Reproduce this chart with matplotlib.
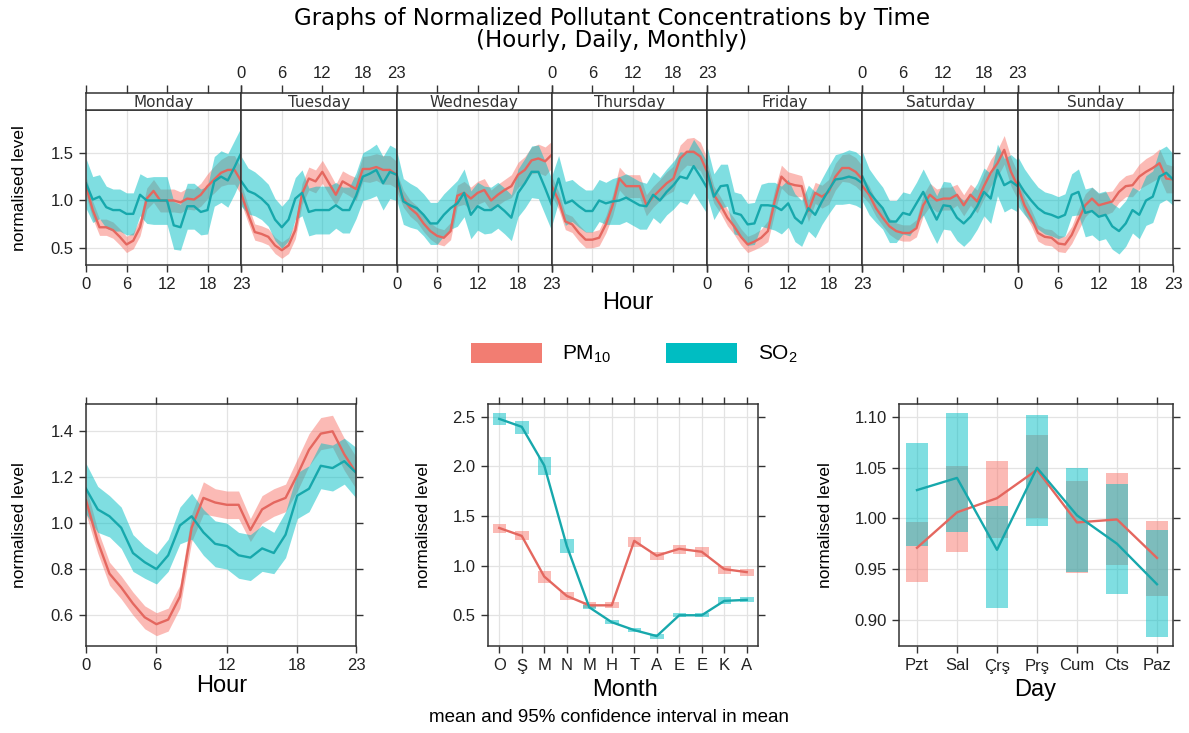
import matplotlib
matplotlib.use('Agg')
import matplotlib.pyplot as plt
import numpy as np
from matplotlib.patches import Patch, Rectangle

plt.rcParams['font.family'] = ['Liberation Sans', 'DejaVu Sans']
plt.rcParams['mathtext.default'] = 'regular'

# ---------------- data ----------------
hours = list(range(24))
day_names = ['Monday', 'Tuesday', 'Wednesday', 'Thursday', 'Friday', 'Saturday', 'Sunday']

pm10_mon = [1.15, 0.90, 0.72, 0.72, 0.69, 0.62, 0.54, 0.58, 0.72, 1.02, 1.10, 1.00, 1.00, 1.00, 0.98, 1.02, 1.01, 1.06, 1.15, 1.22, 1.29, 1.32, 1.32, 1.20]
so2_mon = [1.18, 1.01, 1.04, 0.93, 0.90, 0.90, 0.86, 0.86, 1.06, 1.00, 1.00, 1.00, 1.00, 0.74, 0.72, 0.94, 0.94, 0.88, 0.90, 1.20, 1.25, 1.21, 1.35, 1.50]
pm10_tue = [1.07, 0.86, 0.67, 0.65, 0.62, 0.53, 0.48, 0.53, 0.69, 1.07, 1.23, 1.20, 1.30, 1.18, 1.06, 1.20, 1.16, 1.12, 1.33, 1.33, 1.35, 1.32, 1.32, 1.27]
so2_tue = [1.20, 1.10, 1.07, 1.02, 0.95, 0.80, 0.72, 0.80, 1.02, 1.08, 0.88, 0.90, 0.90, 0.90, 0.95, 0.90, 0.90, 1.05, 1.25, 1.28, 1.32, 1.18, 1.30, 1.27]
pm10_wed = [1.20, 1.02, 0.92, 0.86, 0.76, 0.68, 0.63, 0.61, 0.68, 1.05, 1.08, 1.02, 1.08, 1.11, 1.00, 1.06, 1.11, 1.15, 1.27, 1.32, 1.42, 1.44, 1.41, 1.48]
so2_wed = [1.27, 0.99, 0.95, 0.92, 0.85, 0.76, 0.76, 0.85, 0.92, 0.97, 1.08, 0.85, 0.94, 0.90, 0.90, 0.95, 0.89, 0.82, 1.08, 1.18, 1.30, 1.30, 1.13, 0.95]
pm10_thu = [1.15, 1.00, 0.78, 0.75, 0.66, 0.59, 0.59, 0.61, 0.75, 0.95, 1.23, 1.15, 1.15, 1.15, 0.95, 1.04, 1.11, 1.18, 1.23, 1.44, 1.51, 1.51, 1.46, 1.30]
so2_thu = [1.00, 1.23, 0.97, 1.00, 0.94, 0.89, 0.89, 1.00, 0.97, 0.99, 1.00, 1.03, 0.99, 0.95, 0.94, 1.06, 1.00, 1.09, 1.16, 1.25, 1.23, 1.36, 1.25, 1.13]
pm10_fri = [1.30, 1.06, 0.95, 0.82, 0.73, 0.62, 0.54, 0.57, 0.61, 0.68, 0.99, 1.25, 1.18, 1.16, 1.15, 0.89, 1.08, 1.04, 1.09, 1.25, 1.34, 1.34, 1.30, 1.22]
so2_fri = [1.30, 1.04, 1.15, 1.16, 0.87, 0.85, 0.75, 0.76, 0.95, 0.95, 0.94, 0.90, 0.97, 0.82, 0.76, 0.92, 0.85, 0.99, 1.11, 1.22, 1.23, 1.25, 1.23, 1.18]
pm10_sat = [1.15, 1.06, 0.92, 0.82, 0.73, 0.68, 0.66, 0.66, 0.71, 0.95, 1.06, 1.00, 1.02, 1.02, 1.06, 0.95, 1.06, 0.99, 1.15, 1.29, 1.39, 1.53, 1.30, 1.15]
so2_sat = [1.25, 1.09, 1.00, 0.92, 0.78, 0.78, 0.87, 0.85, 0.97, 1.09, 0.94, 0.80, 0.95, 0.94, 0.82, 0.76, 0.83, 0.94, 1.09, 1.02, 1.32, 1.16, 1.20, 1.15]
pm10_sun = [1.15, 0.95, 0.82, 0.66, 0.62, 0.61, 0.55, 0.54, 0.64, 0.80, 0.95, 1.02, 0.95, 0.97, 0.99, 1.09, 1.15, 1.16, 1.25, 1.30, 1.34, 1.39, 1.23, 1.22]
so2_sun = [1.20, 1.09, 1.00, 0.92, 0.87, 0.85, 0.82, 0.85, 1.06, 1.09, 0.87, 0.89, 0.83, 0.85, 0.73, 0.68, 0.76, 0.90, 0.85, 1.00, 1.04, 1.25, 1.29, 1.22]

# approximate 95% CI half-widths by hour (week panels)
pm10_week_ci = [0.10, 0.09, 0.085, 0.085, 0.085, 0.085, 0.085, 0.085, 0.09, 0.11, 0.12, 0.12, 0.12, 0.12, 0.11, 0.11, 0.11, 0.12, 0.13, 0.14, 0.14, 0.15, 0.15, 0.14]
so2_week_ci = [0.26, 0.24, 0.23, 0.22, 0.22, 0.22, 0.22, 0.22, 0.22, 0.24, 0.25, 0.25, 0.25, 0.25, 0.24, 0.24, 0.24, 0.24, 0.25, 0.26, 0.27, 0.28, 0.28, 0.27]

# hourly (all days)
pm10_hour = [1.10, 0.92, 0.78, 0.72, 0.65, 0.59, 0.56, 0.58, 0.68, 0.98, 1.11, 1.09, 1.08, 1.08, 0.97, 1.06, 1.09, 1.11, 1.21, 1.32, 1.39, 1.40, 1.30, 1.22]
so2_hour = [1.15, 1.06, 1.03, 0.98, 0.87, 0.83, 0.80, 0.86, 0.99, 1.03, 0.96, 0.91, 0.90, 0.86, 0.85, 0.89, 0.87, 0.95, 1.12, 1.15, 1.25, 1.24, 1.27, 1.22]
pm10_hour_ci = [0.06, 0.05, 0.05, 0.05, 0.05, 0.05, 0.05, 0.05, 0.05, 0.06, 0.07, 0.06, 0.06, 0.06, 0.05, 0.06, 0.06, 0.06, 0.07, 0.07, 0.07, 0.07, 0.07, 0.07]
so2_hour_ci = [0.11, 0.10, 0.09, 0.09, 0.08, 0.07, 0.065, 0.07, 0.08, 0.10, 0.10, 0.10, 0.10, 0.10, 0.10, 0.10, 0.09, 0.10, 0.10, 0.10, 0.10, 0.10, 0.10, 0.11]

# monthly
months = ['O', 'Ş', 'M', 'N', 'M', 'H', 'T', 'A', 'E', 'E', 'K', 'A']
pm10_month = [1.38, 1.30, 0.89, 0.695, 0.60, 0.60, 1.25, 1.10, 1.17, 1.14, 0.965, 0.935]
pm10_month_lo = [1.33, 1.26, 0.83, 0.65, 0.57, 0.57, 1.19, 1.06, 1.12, 1.09, 0.92, 0.90]
pm10_month_hi = [1.42, 1.35, 0.95, 0.73, 0.63, 0.63, 1.29, 1.14, 1.21, 1.19, 1.00, 0.97]
so2_month = [2.48, 2.40, 2.01, 1.20, 0.58, 0.43, 0.35, 0.29, 0.50, 0.50, 0.645, 0.655]
so2_month_lo = [2.42, 2.33, 1.91, 1.13, 0.56, 0.41, 0.33, 0.265, 0.48, 0.48, 0.61, 0.63]
so2_month_hi = [2.54, 2.46, 2.10, 1.27, 0.60, 0.45, 0.37, 0.31, 0.52, 0.52, 0.68, 0.68]

# weekday
weekdays = ['Pzt', 'Sal', 'Çrş', 'Prş', 'Cum', 'Cts', 'Paz']
pm10_day = [0.971, 1.006, 1.020, 1.048, 0.996, 0.999, 0.961]
pm10_day_lo = [0.937, 0.967, 0.981, 1.000, 0.946, 0.954, 0.923]
pm10_day_hi = [0.996, 1.052, 1.057, 1.082, 1.037, 1.045, 0.997]
so2_day = [1.028, 1.040, 0.969, 1.050, 1.003, 0.975, 0.935]
so2_day_lo = [0.973, 0.987, 0.912, 0.993, 0.947, 0.925, 0.883]
so2_day_hi = [1.074, 1.104, 1.012, 1.102, 1.050, 1.034, 0.989]

pm10_week = [pm10_mon, pm10_tue, pm10_wed, pm10_thu, pm10_fri, pm10_sat, pm10_sun]
so2_week = [so2_mon, so2_tue, so2_wed, so2_thu, so2_fri, so2_sat, so2_sun]

# ---------------- style ----------------
RED_FILL = '#F8766D'
TEAL_FILL = '#00BFC4'
RED_LINE = '#E4675F'
TEAL_LINE = '#17A8AC'
GRID = '#E3E3E3'
SPINE = '#333333'
ALPHA = 0.5

W, H = 1189, 733
fig = plt.figure(figsize=(W / 100, H / 100), dpi=100)


def box(x0, y0, x1, y1):
    return [x0 / W, 1 - y1 / H, (x1 - x0) / W, (y1 - y0) / H]


def style_spines(ax, lw=1.0):
    for s in ax.spines.values():
        s.set_color(SPINE)
        s.set_linewidth(lw)


# ---------------- top: hour by weekday ----------------
xs = np.linspace(86, 1173, 8)
for i in range(7):
    ax = fig.add_axes(box(xs[i], 110, xs[i + 1], 265))
    ax.set_xlim(0, 23)
    ax.set_ylim(0.325, 1.947)
    ax.set_xticks([0, 6, 12, 18, 23])
    ax.set_yticks([0.5, 1.0, 1.5])
    ax.set_yticklabels(['0.5', '1.0', '1.5'])
    ax.set_axisbelow(True)
    ax.grid(color=GRID, lw=0.9)
    pm = np.array(pm10_week[i]); so = np.array(so2_week[i])
    pci = np.array(pm10_week_ci); sci = np.array(so2_week_ci)
    ax.fill_between(hours, pm - pci, pm + pci, color=RED_FILL, alpha=ALPHA, lw=0)
    ax.plot(hours, pm, color=RED_LINE, lw=1.7)
    ax.fill_between(hours, so - sci, so + sci, color=TEAL_FILL, alpha=ALPHA, lw=0)
    ax.plot(hours, so, color=TEAL_LINE, lw=1.7)
    ax.tick_params(direction='out', length=5, width=1, colors=SPINE, labelcolor='#222222',
                   labelsize=12, top=False, bottom=True, labelbottom=(i % 2 == 0),
                   left=(i == 0), labelleft=(i == 0), right=(i == 6), labelright=False, pad=4)
    style_spines(ax, 1.1)

    sax = fig.add_axes(box(xs[i], 93, xs[i + 1], 110))
    sax.set_xlim(0, 23)
    sax.set_ylim(0, 1)
    sax.set_yticks([])
    sax.set_xticks([0, 6, 12, 18, 23])
    sax.xaxis.tick_top()
    sax.tick_params(direction='out', length=6, width=1, colors=SPINE, labelcolor='#222222',
                    labelsize=12, top=True, bottom=False, labeltop=(i % 2 == 1),
                    labelbottom=False, pad=3)
    sax.text(0.5, 0.45, day_names[i], transform=sax.transAxes, ha='center', va='center',
             fontsize=11, family='DejaVu Sans', color='#333333')
    style_spines(sax, 1.1)

fig.text(20 / W, 1 - 188 / H, 'normalised level', rotation=90, ha='center', va='center', fontsize=12.5)
fig.text(628 / W, 1 - 303 / H, 'Hour', ha='center', va='center', fontsize=17)

# title
fig.text(612 / W, 1 - 18 / H, 'Graphs of Normalized Pollutant Concentrations by Time',
         ha='center', va='center', fontsize=16.5, family='DejaVu Sans')
fig.text(612 / W, 1 - 40 / H, '(Hourly, Daily, Monthly)',
         ha='center', va='center', fontsize=16.5, family='DejaVu Sans')

# legend
handles = [Patch(facecolor='#F27D72', edgecolor='none'), Patch(facecolor='#00BDC2', edgecolor='none')]
fig.legend(handles=handles, labels=['PM$_{10}$', 'SO$_2$'], loc='center',
           bbox_to_anchor=(634 / W, 1 - 354 / H), ncol=2, frameon=False, fontsize=15,
           handlelength=3.4, handleheight=1.15, columnspacing=2.6, handletextpad=1.0)


def bottom_style(ax):
    ax.set_axisbelow(True)
    ax.grid(color=GRID, lw=0.9)
    ax.tick_params(direction='out', length=5, width=1, colors=SPINE, labelcolor='#222222',
                   labelsize=12, top=True, bottom=True, left=True, right=True,
                   labeltop=False, labelright=False, pad=4)
    style_spines(ax, 1.1)


# ---------------- bottom-left: hour ----------------
ax1 = fig.add_axes(box(86, 404, 356, 646))
ax1.set_xlim(0, 23)
ax1.set_ylim(0.465, 1.519)
ax1.set_xticks([0, 6, 12, 18, 23])
ax1.set_yticks([0.6, 0.8, 1.0, 1.2, 1.4])
ax1.set_yticklabels(['0.6', '0.8', '1.0', '1.2', '1.4'])
pm = np.array(pm10_hour); so = np.array(so2_hour)
ax1.fill_between(hours, pm - np.array(pm10_hour_ci), pm + np.array(pm10_hour_ci), color=RED_FILL, alpha=ALPHA, lw=0)
ax1.plot(hours, pm, color=RED_LINE, lw=1.7)
ax1.fill_between(hours, so - np.array(so2_hour_ci), so + np.array(so2_hour_ci), color=TEAL_FILL, alpha=ALPHA, lw=0)
ax1.plot(hours, so, color=TEAL_LINE, lw=1.7)
bottom_style(ax1)
fig.text(20 / W, 1 - 525 / H, 'normalised level', rotation=90, ha='center', va='center', fontsize=12.5)
fig.text(222 / W, 1 - 686 / H, 'Hour', ha='center', va='center', fontsize=17)

# ---------------- bottom-middle: month ----------------
ax2 = fig.add_axes(box(488, 404, 758, 646))
ax2.set_xlim(-0.5, 11.5)
ax2.set_ylim(0.19, 2.63)
ax2.set_xticks(range(12))
ax2.set_xticklabels(months)
ax2.set_yticks([0.5, 1.0, 1.5, 2.0, 2.5])
ax2.set_yticklabels(['0.5', '1.0', '1.5', '2.0', '2.5'])
mw = 0.6
for i in range(12):
    ax2.add_patch(Rectangle((i - mw / 2, pm10_month_lo[i]), mw, pm10_month_hi[i] - pm10_month_lo[i],
                            facecolor=RED_FILL, alpha=ALPHA, lw=0))
ax2.plot(range(12), pm10_month, color=RED_LINE, lw=1.7)
for i in range(12):
    ax2.add_patch(Rectangle((i - mw / 2, so2_month_lo[i]), mw, so2_month_hi[i] - so2_month_lo[i],
                            facecolor=TEAL_FILL, alpha=ALPHA, lw=0))
ax2.plot(range(12), so2_month, color=TEAL_LINE, lw=1.7)
bottom_style(ax2)
fig.text(423 / W, 1 - 525 / H, 'normalised level', rotation=90, ha='center', va='center', fontsize=12.5)
fig.text(625 / W, 1 - 690 / H, 'Month', ha='center', va='center', fontsize=17)

# ---------------- bottom-right: weekday ----------------
ax3 = fig.add_axes(box(899, 404, 1173, 646))
ax3.set_xlim(-0.45, 6.4)
ax3.set_ylim(0.874, 1.113)
ax3.set_xticks(range(7))
ax3.set_xticklabels(weekdays)
ax3.set_yticks([0.90, 0.95, 1.00, 1.05, 1.10])
ax3.set_yticklabels(['0.90', '0.95', '1.00', '1.05', '1.10'])
dw = 0.55
for i in range(7):
    ax3.add_patch(Rectangle((i - dw / 2, pm10_day_lo[i]), dw, pm10_day_hi[i] - pm10_day_lo[i],
                            facecolor=RED_FILL, alpha=ALPHA, lw=0))
ax3.plot(range(7), pm10_day, color=RED_LINE, lw=1.7)
for i in range(7):
    ax3.add_patch(Rectangle((i - dw / 2, so2_day_lo[i]), dw, so2_day_hi[i] - so2_day_lo[i],
                            facecolor=TEAL_FILL, alpha=ALPHA, lw=0))
ax3.plot(range(7), so2_day, color=TEAL_LINE, lw=1.7)
bottom_style(ax3)
fig.text(825 / W, 1 - 525 / H, 'normalised level', rotation=90, ha='center', va='center', fontsize=12.5)
fig.text(1035 / W, 1 - 690 / H, 'Day', ha='center', va='center', fontsize=17)

fig.text(609 / W, 1 - 718 / H, 'mean and 95% confidence interval in mean',
         ha='center', va='center', fontsize=13.5)

fig.savefig('out.png', dpi=100)
